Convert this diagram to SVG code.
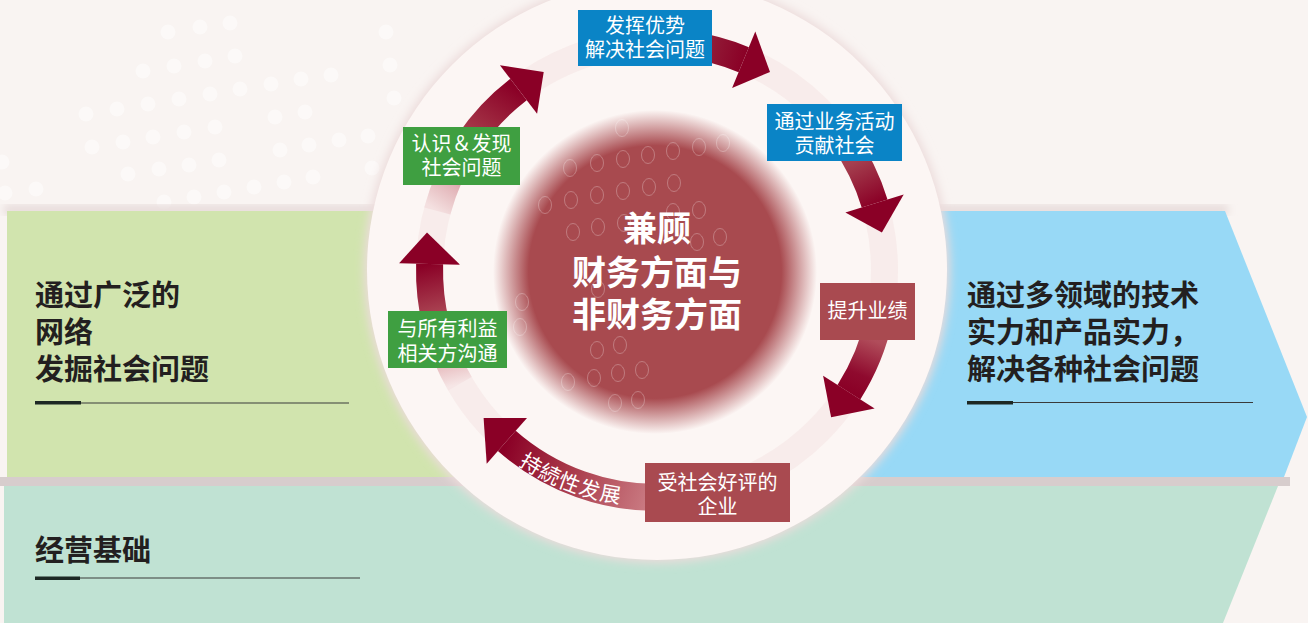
<svg xmlns="http://www.w3.org/2000/svg" width="1308" height="623" viewBox="0 0 1308 623">
<defs>
<style>
.f{font-family:"Noto Sans CJK SC","Noto Sans",sans-serif;}
.lbl{font-family:"Noto Sans CJK SC","Noto Sans",sans-serif;font-size:20px;fill:#ffffff;text-anchor:middle;}
.hd{font-family:"Noto Sans CJK SC","Noto Sans",sans-serif;font-size:29px;font-weight:bold;fill:#231f20;}
.ctr{font-family:"Noto Sans CJK SC","Noto Sans",sans-serif;font-size:34px;font-weight:bold;fill:#ffffff;text-anchor:middle;}
.blue{fill:#0a84c6;}
.green{fill:#3f9f41;}
.red{fill:#a94a50;}
.ah{fill:#8a0026;}
.body{fill:none;stroke-width:27;}
.thick{fill:#1d2824;}
.thin{stroke:#3a3a3a;stroke-width:1.2;}
.dot{fill:#ffffff;opacity:0.45;}
.ring{fill:none;stroke:#ffffff;stroke-width:0.9;opacity:0.3;}
</style>
<radialGradient id="core" cx="655" cy="272" r="162" gradientUnits="userSpaceOnUse">
<stop offset="0" stop-color="#a84a4f"/>
<stop offset="0.78" stop-color="#a84a4f"/>
<stop offset="1" stop-color="#a84a4f" stop-opacity="0"/>
</radialGradient>
<filter id="soft" x="-10%" y="-10%" width="120%" height="120%"><feGaussianBlur stdDeviation="5"/></filter>
<filter id="psh" x="-5%" y="-10%" width="110%" height="120%"><feGaussianBlur stdDeviation="4"/></filter>
<linearGradient id="gA" x1="437" y1="211" x2="518" y2="90" gradientUnits="userSpaceOnUse">
<stop offset="0" stop-color="#f4e0e0"/><stop offset="0.2" stop-color="#e2b4b8"/><stop offset="0.55" stop-color="#a83c4c"/><stop offset="1" stop-color="#8a0026"/>
</linearGradient>
<linearGradient id="gB" x1="689" y1="45" x2="744" y2="60" gradientUnits="userSpaceOnUse">
<stop offset="0" stop-color="#962a40"/><stop offset="1" stop-color="#8a0026"/>
</linearGradient>
<linearGradient id="gC" x1="843" y1="140" x2="875" y2="204" gradientUnits="userSpaceOnUse">
<stop offset="0" stop-color="#a84555"/><stop offset="0.34" stop-color="#a5404f"/><stop offset="1" stop-color="#8a0026"/>
</linearGradient>
<linearGradient id="gD" x1="880" y1="317" x2="849" y2="392" gradientUnits="userSpaceOnUse">
<stop offset="0" stop-color="#b85563"/><stop offset="0.3" stop-color="#b04c5a"/><stop offset="0.75" stop-color="#8f0a2e"/><stop offset="1" stop-color="#8a0026"/>
</linearGradient>
<linearGradient id="gE" x1="665" y1="497" x2="507" y2="441" gradientUnits="userSpaceOnUse">
<stop offset="0" stop-color="#cf858c"/><stop offset="0.11" stop-color="#c8777f"/><stop offset="0.6" stop-color="#a83848"/><stop offset="1" stop-color="#8a0026"/>
</linearGradient>
<linearGradient id="gF" x1="460" y1="384" x2="430" y2="264" gradientUnits="userSpaceOnUse">
<stop offset="0" stop-color="#f6e6e6"/><stop offset="0.15" stop-color="#eac4c6"/><stop offset="0.62" stop-color="#a84050"/><stop offset="1" stop-color="#8a0026"/>
</linearGradient>
<path id="txtArc" d="M 512 460.5 A 236 236 0 0 0 628 504.3"/>
</defs>

<!-- background -->
<rect x="0" y="0" width="1308" height="623" fill="#f9f4f2"/>
<g id="bg-dots">
<circle class="dot" cx="168" cy="32" r="7.5"/><circle class="dot" cx="200" cy="27" r="7.5"/><circle class="dot" cx="230" cy="23" r="7.5"/>
<circle class="dot" cx="143" cy="71" r="7.5"/><circle class="dot" cx="174" cy="66" r="7.5"/><circle class="dot" cx="205" cy="61" r="7.5"/><circle class="dot" cx="235" cy="56" r="7.5"/>
<circle class="dot" cx="86" cy="114" r="7.5"/><circle class="dot" cx="117" cy="109" r="7.5"/><circle class="dot" cx="148" cy="104" r="7.5"/><circle class="dot" cx="179" cy="99" r="7.5"/><circle class="dot" cx="210" cy="94" r="7.5"/><circle class="dot" cx="240" cy="89" r="7.5"/><circle class="dot" cx="271" cy="84" r="7.5"/><circle class="dot" cx="301" cy="79" r="7.5"/><circle class="dot" cx="331" cy="75" r="7.5"/>
<circle class="dot" cx="92" cy="147" r="7.5"/><circle class="dot" cx="123" cy="142" r="7.5"/><circle class="dot" cx="153" cy="137" r="7.5"/><circle class="dot" cx="184" cy="132" r="7.5"/><circle class="dot" cx="215" cy="127" r="7.5"/><circle class="dot" cx="275" cy="117" r="7.5"/><circle class="dot" cx="305" cy="112" r="7.5"/>
<circle class="dot" cx="128" cy="174" r="7.5"/><circle class="dot" cx="159" cy="169" r="7.5"/><circle class="dot" cx="189" cy="165" r="7.5"/><circle class="dot" cx="219" cy="160" r="7.5"/><circle class="dot" cx="280" cy="150" r="7.5"/><circle class="dot" cx="309" cy="145" r="7.5"/><circle class="dot" cx="339" cy="140" r="7.5"/><circle class="dot" cx="368" cy="136" r="7.5"/>
<circle class="dot" cx="164" cy="202" r="7.5"/><circle class="dot" cx="194" cy="197" r="7.5"/><circle class="dot" cx="224" cy="192" r="7.5"/><circle class="dot" cx="254" cy="187" r="7.5"/><circle class="dot" cx="284" cy="182" r="7.5"/><circle class="dot" cx="313" cy="177" r="7.5"/>
<circle class="dot" cx="386" cy="32" r="7.5"/><circle class="dot" cx="390" cy="65" r="7.5"/><circle class="dot" cx="394" cy="98" r="7.5"/><circle class="dot" cx="372" cy="168" r="7.5"/><circle class="dot" cx="36" cy="189" r="7.5"/><circle class="dot" cx="5" cy="193" r="7.5"/><circle class="dot" cx="2" cy="162" r="7.5"/>
</g>

<!-- base bands -->
<polygon points="4,486 1278,486 1223,623 4,623" fill="#c0e2d3"/>
<rect x="0" y="477" width="1290" height="9" fill="#d7cdcd"/>

<rect x="4" y="205" width="1224" height="10" fill="#e6dad9" filter="url(#psh)"/>
<g id="panel-left">
<polygon points="7,211 500,211 500,477 7,477" fill="#d1e4ae"/>
</g>
<g id="panel-right">
<polygon points="800,211 1225,211 1307,417 1284,477 800,477" fill="#98d9f6"/>
</g>

<!-- cycle disc -->
<circle cx="657" cy="270" r="293" fill="#ecdcdb" filter="url(#soft)"/>
<circle cx="657" cy="270" r="290" fill="#fcf6f4"/>
<circle cx="657" cy="270" r="227.5" fill="none" stroke="#f1d9d9" stroke-width="27" opacity="0.35"/>

<g id="core-node">
<circle cx="655" cy="272" r="162" fill="url(#core)"/>
<g id="core-rings">
<ellipse class="ring" cx="622" cy="128" rx="6.5" ry="8.5"/><ellipse class="ring" cx="597" cy="163" rx="6.5" ry="8.5"/><ellipse class="ring" cx="623" cy="159" rx="6.5" ry="8.5"/><ellipse class="ring" cx="648" cy="155" rx="6.5" ry="8.5"/><ellipse class="ring" cx="673" cy="151" rx="6.5" ry="8.5"/><ellipse class="ring" cx="699" cy="147" rx="6.5" ry="8.5"/><ellipse class="ring" cx="723" cy="143" rx="6.5" ry="8.5"/>
<ellipse class="ring" cx="570" cy="168" rx="6.5" ry="8.5"/><ellipse class="ring" cx="545" cy="205" rx="6.5" ry="8.5"/><ellipse class="ring" cx="571" cy="200" rx="6.5" ry="8.5"/><ellipse class="ring" cx="597" cy="195" rx="6.5" ry="8.5"/><ellipse class="ring" cx="623" cy="191" rx="6.5" ry="8.5"/><ellipse class="ring" cx="649" cy="187" rx="6.5" ry="8.5"/><ellipse class="ring" cx="674" cy="183" rx="6.5" ry="8.5"/>
<ellipse class="ring" cx="699" cy="210" rx="6.5" ry="8.5"/><ellipse class="ring" cx="673" cy="212" rx="6.5" ry="8.5"/><ellipse class="ring" cx="573" cy="232" rx="6.5" ry="8.5"/><ellipse class="ring" cx="598" cy="227" rx="6.5" ry="8.5"/><ellipse class="ring" cx="624" cy="223" rx="6.5" ry="8.5"/><ellipse class="ring" cx="697" cy="242" rx="6.5" ry="8.5"/><ellipse class="ring" cx="720" cy="237" rx="6.5" ry="8.5"/>
<ellipse class="ring" cx="522" cy="302" rx="6.5" ry="8.5"/><ellipse class="ring" cx="598" cy="289" rx="6.5" ry="8.5"/><ellipse class="ring" cx="520" cy="327" rx="6.5" ry="8.5"/><ellipse class="ring" cx="597" cy="350" rx="6.5" ry="8.5"/><ellipse class="ring" cx="620" cy="345" rx="6.5" ry="8.5"/>
<ellipse class="ring" cx="568" cy="382" rx="6.5" ry="8.5"/><ellipse class="ring" cx="594" cy="378" rx="6.5" ry="8.5"/><ellipse class="ring" cx="618" cy="373" rx="6.5" ry="8.5"/><ellipse class="ring" cx="642" cy="370" rx="6.5" ry="8.5"/><ellipse class="ring" cx="615" cy="403" rx="6.5" ry="8.5"/><ellipse class="ring" cx="638" cy="400" rx="6.5" ry="8.5"/>
</g>
<text class="ctr" x="657"><tspan x="657" y="241">兼顾</tspan><tspan x="657" y="285">财务方面与</tspan><tspan x="657" y="327">非财务方面</tspan></text>
</g>

<g id="connectors">
<path class="body" stroke="url(#gA)" d="M 437.3 211.1 A 227.5 227.5 0 0 1 518.5 89.5"/>
<polygon class="ah" points="537.1,113.7 499.9,65.3 543.7,72.1"/>
<path class="body" stroke="url(#gB)" d="M 688.7 44.7 A 227.5 227.5 0 0 1 743.7 59.7"/>
<polygon class="ah" points="732.1,87.9 755.3,31.5 770,72"/>
<path class="body" stroke="url(#gC)" d="M 843.4 139.5 A 227.5 227.5 0 0 1 874.6 203.5"/>
<polygon class="ah" points="845.4,212.4 903.7,194.6 881.9,232.4"/>
<path class="body" stroke="url(#gD)" d="M 879.5 317.3 A 227.5 227.5 0 0 1 848.9 392.2"/>
<polygon class="ah" points="823.1,375.8 874.6,408.6 831.1,417.2"/>
<path class="body" stroke="url(#gE)" d="M 664.9 497.4 A 227.5 227.5 0 0 1 506.8 440.9"/>
<polygon class="ah" points="527,418 486.7,463.8 483.6,418.1"/>
<text class="f" font-size="21" letter-spacing="1" fill="#ffffff" text-anchor="middle"><textPath href="#txtArc" startOffset="50%">持続性发展</textPath></text>
<path class="body" stroke="url(#gF)" d="M 460 383.8 A 227.5 227.5 0 0 1 429.6 264"/>
<polygon class="ah" points="460.1,264.8 399.1,263.2 427,232.5"/>
</g>

<g id="node-blue1">
<rect class="blue" x="578" y="10" width="134" height="56"/>
<text class="lbl"><tspan x="645" y="33">发挥优势</tspan><tspan x="645" y="57">解决社会问题</tspan></text>
</g>
<g id="node-blue2">
<rect class="blue" x="767" y="104" width="135" height="57"/>
<text class="lbl"><tspan x="834.5" y="129">通过业务活动</tspan><tspan x="834.5" y="153">贡献社会</tspan></text>
</g>
<g id="node-red1">
<rect class="red" x="820" y="283" width="95" height="57"/>
<text class="lbl" x="867.5" y="318">提升业绩</text>
</g>
<g id="node-red2">
<rect class="red" x="645" y="463" width="145" height="59"/>
<text class="lbl"><tspan x="717.5" y="490">受社会好评的</tspan><tspan x="717.5" y="514">企业</tspan></text>
</g>
<g id="node-green2">
<rect class="green" x="388" y="311" width="119" height="57"/>
<text class="lbl"><tspan x="447.5" y="336">与所有利益</tspan><tspan x="447.5" y="361">相关方沟通</tspan></text>
</g>
<g id="node-green1">
<rect class="green" x="403" y="127" width="117" height="58"/>
<text class="lbl"><tspan x="461.5" y="151">认识＆发现</tspan><tspan x="461.5" y="175">社会问题</tspan></text>
</g>

<g id="text-left">
<text class="hd"><tspan x="35" y="306">通过广泛的</tspan><tspan x="35" y="343">网络</tspan><tspan x="35" y="380">发掘社会问题</tspan></text>
<rect class="thick" x="35" y="401" width="46" height="3.5"/>
<line class="thin" x1="81" y1="403" x2="349" y2="403"/>
</g>
<g id="text-right">
<text class="hd"><tspan x="967" y="306">通过多领域的技术</tspan><tspan x="967" y="343">实力和产品实力，</tspan><tspan x="967" y="380">解决各种社会问题</tspan></text>
<rect class="thick" x="967" y="401" width="46" height="3.5"/>
<line class="thin" x1="1013" y1="402.5" x2="1253" y2="402.5"/>
</g>
<g id="text-base">
<text class="hd" x="35" y="561">经营基础</text>
<rect class="thick" x="35" y="576.5" width="45" height="3.5"/>
<line class="thin" x1="80" y1="578" x2="360" y2="578"/>
</g>
</svg>
